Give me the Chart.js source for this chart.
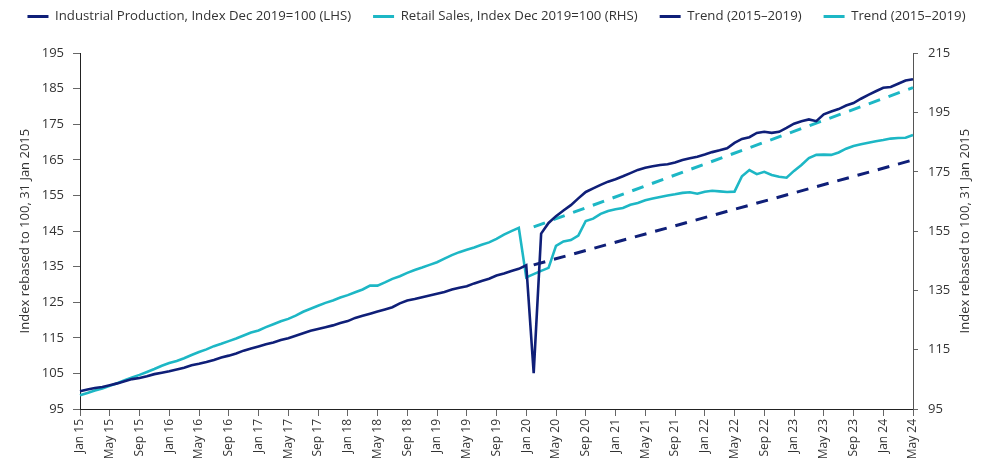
<!DOCTYPE html>
<html>
<head>
<meta charset="utf-8">
<script src="https://cdn.jsdelivr.net/npm/chart.js@4.4.1/dist/chart.umd.min.js"></script>
<style>
  html, body { margin: 0; padding: 0; background: #fff; }
</style>
</head>
<body>
<canvas id="chart" width="993" height="463"></canvas>
<script>
// meses Jan 15 .. May 24
const monthNames = ['Jan', 'Feb', 'Mar', 'Apr', 'May', 'Jun', 'Jul', 'Aug', 'Sep', 'Oct', 'Nov', 'Dec'];
const years = [15, 16, 17, 18, 19, 20, 21, 22, 23, 24];
const labels = [];
for (const yr of years) {
    for (const m of monthNames) {
        labels.push(m + ' ' + yr);
        if (m === 'May' && yr === 24) break;
    }
}

// Industrial Production (LHS)
const industrialProduction = [
    100.0, 100.5, 100.9, 101.2, 101.7, 102.2, 102.8, 103.4, 103.7, 104.2, 104.8, 105.2,
    105.6, 106.1, 106.6, 107.3, 107.7, 108.2, 108.8, 109.5, 110.0, 110.6, 111.4, 112.0,
    112.6, 113.2, 113.7, 114.4, 114.9, 115.6, 116.3, 117.0, 117.5, 118.0, 118.5, 119.2,
    119.7, 120.6, 121.2, 121.8, 122.4, 123.0, 123.6, 124.7, 125.5, 125.9, 126.4, 126.9,
    127.4, 127.9, 128.6, 129.1, 129.5, 130.3, 131.0, 131.6, 132.5, 133.1, 133.8, 134.4,
    135.4, 105.1, 144.3, 147.3, 149.2, 150.8, 152.3, 154.2, 156.0, 157.0, 158.0, 158.9,
    159.6, 160.4, 161.3, 162.2, 162.8, 163.2, 163.6, 163.8, 164.3, 165.0, 165.5, 165.9,
    166.5, 167.2, 167.7, 168.3, 169.8, 170.9, 171.4, 172.6, 172.9, 172.6, 172.9, 174.0,
    175.2, 175.9, 176.4, 175.9, 177.8, 178.6, 179.3, 180.3, 181.0, 182.2, 183.3, 184.3,
    185.3, 185.5, 186.4, 187.3, 187.7
];

// Retail Sales (RHS)
const retailSales = [
    99.6, 100.4, 101.2, 101.9, 102.8, 103.7, 104.7, 105.6, 106.5, 107.5, 108.5, 109.6,
    110.5, 111.2, 112.1, 113.2, 114.2, 115.1, 116.2, 117.0, 117.9, 118.8, 119.8, 120.8,
    121.5, 122.6, 123.6, 124.6, 125.4, 126.5, 127.8, 128.8, 129.8, 130.8, 131.6, 132.6,
    133.4, 134.4, 135.3, 136.6, 136.6, 137.7, 138.9, 139.8, 140.9, 141.9, 142.7, 143.6,
    144.5, 145.7, 146.9, 147.9, 148.7, 149.5, 150.4, 151.2, 152.4, 153.8, 155.0, 156.1,
    139.4, 140.5, 141.6, 142.6, 150.0, 151.5, 152.0, 153.5, 158.4, 159.2, 160.8, 161.8,
    162.4, 162.8, 163.9, 164.5, 165.4, 166.0, 166.5, 167.0, 167.4, 167.9, 168.1, 167.6,
    168.3, 168.6, 168.4, 168.2, 168.3, 173.5, 175.6, 174.2, 175.0, 173.9, 173.3, 173.0,
    175.3, 177.3, 179.6, 180.7, 180.8, 180.7, 181.5, 182.8, 183.7, 184.3, 184.8, 185.3,
    185.7, 186.2, 186.4, 186.5, 187.4
];

// Tendencias 2015-2019 (extremos)
const trendMonths = ['Feb 20', 'May 24'];
const ipTrend = [135.5, 165.0];
const retailTrend = [156.4, 203.4];

// ejes
const leftTicks = { min: 95, max: 195, step: 10 };
const rightTicks = { min: 95, max: 215, step: 20 };
const axisTitle = 'Index rebased to 100, 31 Jan 2015';

const NAVY = '#0f1f78';
const CYAN = '#1db7c5';
const TEXT = '#333333';
const FONT = 'Open Sans';

const toPoints = (xs, ys) => xs.map((x, i) => ({ x, y: ys[i] }));

// leyenda: más separación entre elementos sin bajarla, y hueco hasta el gráfico
const legendGap = {
    id: 'legendGap',
    afterInit(chart) {
        const legend = chart.legend;
        const fit = legend.fit;
        const draw = legend.draw;
        legend.fit = function () {
            fit.call(this);
            this.height += 8;
        };
        legend.draw = function () {
            this.ctx.save();
            this.ctx.translate(0, -12);
            draw.call(this);
            this.ctx.restore();
        };
    }
};

// título del eje derecho, leído de abajo hacia arriba como el izquierdo
const rightTitle = {
    id: 'rightTitle',
    afterDraw(chart) {
        const { ctx, chartArea } = chart;
        const scale = chart.scales.y1;
        ctx.save();
        ctx.translate(scale.right - 28, (chartArea.top + chartArea.bottom) / 2);
        ctx.rotate(-Math.PI / 2);
        ctx.font = '13px "' + FONT + '"';
        ctx.fillStyle = TEXT;
        ctx.textAlign = 'center';
        ctx.textBaseline = 'middle';
        ctx.fillText(axisTitle, 0, 0);
        ctx.restore();
    }
};

new Chart(document.getElementById('chart'), {
    type: 'line',
    data: {
        labels,
        datasets: [
            {
                label: 'Industrial Production, Index Dec 2019=100 (LHS)',
                data: industrialProduction,
                yAxisID: 'y',
                borderColor: NAVY,
                backgroundColor: NAVY,
                borderWidth: 2.6,
                pointRadius: 0,
                tension: 0
            },
            {
                label: 'Retail Sales, Index Dec 2019=100 (RHS)',
                data: retailSales,
                yAxisID: 'y1',
                borderColor: CYAN,
                backgroundColor: CYAN,
                borderWidth: 2.6,
                pointRadius: 0,
                tension: 0
            },
            {
                label: 'Trend (2015–2019)',
                data: toPoints(trendMonths, ipTrend),
                yAxisID: 'y',
                borderColor: NAVY,
                backgroundColor: NAVY,
                borderWidth: 3,
                borderDash: [12, 9],
                pointRadius: 0
            },
            {
                label: 'Trend (2015–2019)',
                data: toPoints(trendMonths, retailTrend),
                yAxisID: 'y1',
                borderColor: CYAN,
                backgroundColor: CYAN,
                borderWidth: 3,
                borderDash: [12, 9],
                pointRadius: 0
            }
        ]
    },
    options: {
        responsive: false,
        animation: false,
        layout: { padding: { left: 0, right: 0, top: 0, bottom: 2 } },
        plugins: {
            tooltip: { enabled: false },
            legend: {
                position: 'top',
                labels: {
                    usePointStyle: true,
                    pointStyle: 'line',
                    pointStyleWidth: 21,
                    padding: 22,
                    color: TEXT,
                    font: { family: FONT, size: 13.2 },
                    generateLabels(chart) {
                        const items = Chart.defaults.plugins.legend.labels.generateLabels(chart);
                        for (const item of items) {
                            item.lineWidth = 3;
                            if (item.lineDash && item.lineDash.length) {
                                item.lineDash = [7, 5];
                            }
                        }
                        return items;
                    }
                }
            }
        },
        scales: {
            x: {
                type: 'category',
                offset: false,
                grid: { drawOnChartArea: false, tickLength: 7, color: '#666' },
                border: { color: '#222', width: 1 },
                ticks: {
                    autoSkip: false,
                    minRotation: 90,
                    maxRotation: 90,
                    padding: 3,
                    color: TEXT,
                    font: { family: FONT, size: 12 },
                    callback(value, index) {
                        return index % 4 === 0 ? this.getLabelForValue(value) : null;
                    }
                },
                afterFit(scale) { scale.height = 52; }
            },
            y: {
                position: 'left',
                min: leftTicks.min,
                max: leftTicks.max,
                grid: { drawOnChartArea: false, tickLength: 7, color: '#666' },
                border: { color: '#222', width: 1 },
                ticks: {
                    stepSize: leftTicks.step,
                    padding: 9,
                    color: TEXT,
                    font: { family: FONT, size: 13 }
                },
                title: {
                    display: true,
                    text: axisTitle,
                    color: TEXT,
                    font: { family: FONT, size: 13 },
                    padding: { top: 17, bottom: 0 }
                },
                afterFit(scale) { scale.width = 80; }
            },
            y1: {
                position: 'right',
                min: rightTicks.min,
                max: rightTicks.max,
                grid: { drawOnChartArea: false, tickLength: 5, color: '#666' },
                border: { color: '#555', width: 1 },
                ticks: {
                    stepSize: rightTicks.step,
                    padding: 10,
                    color: TEXT,
                    font: { family: FONT, size: 13 }
                },
                afterFit(scale) { scale.width = 80; }
            }
        }
    },
    plugins: [legendGap, rightTitle]
});
</script>
</body>
</html>
